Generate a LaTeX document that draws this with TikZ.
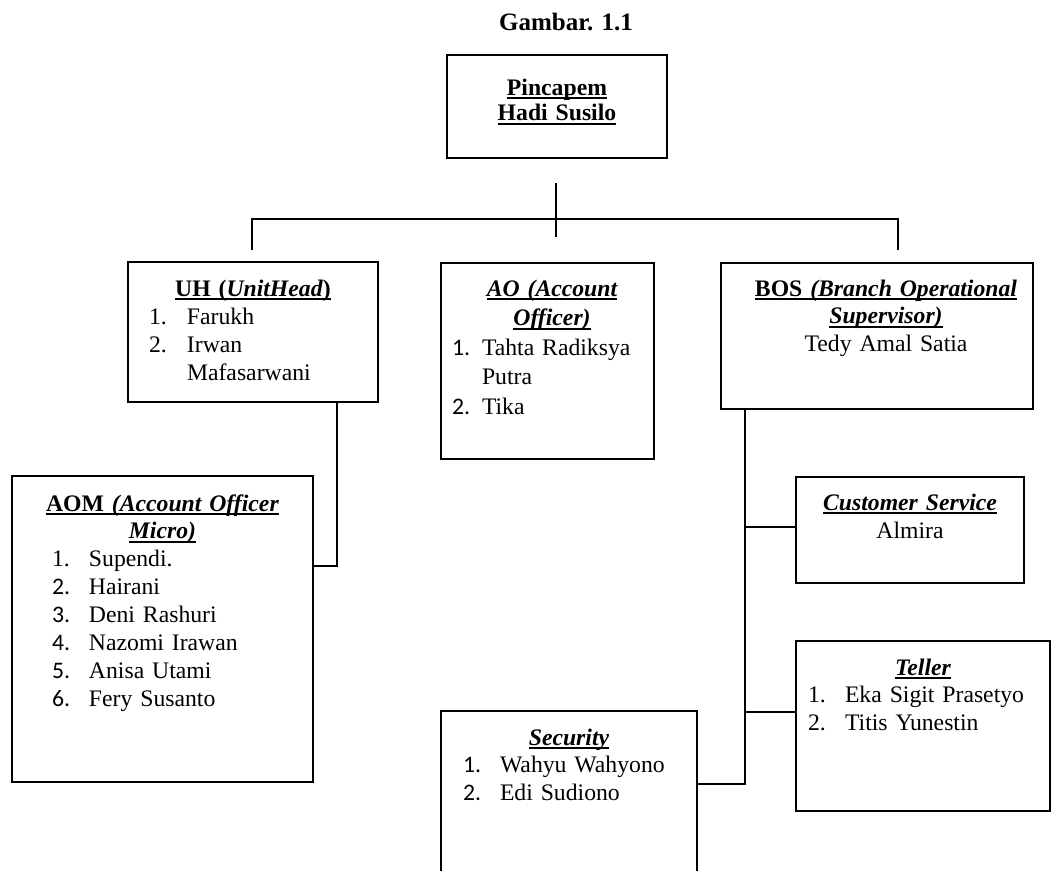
\documentclass[tikz,border=0pt]{standalone}
\usepackage{fontspec}
\setmainfont{Liberation Serif}
\newfontfamily\calib{Carlito}
\usetikzlibrary{calc}
\newsavebox\hulbox
\newcommand\hul[1]{\sbox\hulbox{#1}\leavevmode\rlap{\usebox\hulbox}\rule[-4.4pt]{\wd\hulbox}{2.3pt}}
\begin{document}
\begin{tikzpicture}[x=1pt,y=-1pt,
  box/.style={draw, line width=1.7pt, rectangle, inner sep=0pt, outer sep=0pt, anchor=north west},
  txt/.style={inner sep=0pt, anchor=base},
  con/.style={line width=1.7pt}]
\useasboundingbox (0,0) rectangle (1052,870);
\clip (0,0) rectangle (1052,870);

% boxes
\node[box, minimum width=220pt, minimum height=103pt] (pin) at (447,55) {};
\node[box, minimum width=250pt, minimum height=140pt] (uh)  at (128,262) {};
\node[box, minimum width=213pt, minimum height=196pt] (ao)  at (441,263) {};
\node[box, minimum width=312pt, minimum height=146pt] (bos) at (721,263) {};
\node[box, minimum width=301pt, minimum height=306pt] (aom) at (12,476) {};
\node[box, minimum width=228pt, minimum height=106pt] (cs)  at (796,477) {};
\node[box, minimum width=254pt, minimum height=170pt] (tel) at (796,641) {};
\node[box, minimum width=256pt, minimum height=180pt] (sec) at (441,711) {};

% texts
\node[txt, font=\fontsize{25}{28}\selectfont\bfseries] (title) at (566,30) {Gambar. 1.1};

\node[txt, text width=220pt, font=\fontsize{23.7}{25.5}\selectfont\bfseries] (pint) at (557,95)
  {\centering\hul{Pincapem}\\\hul{Hadi Susilo}\par};

\node[txt, text width=250pt, font=\fontsize{23.7}{28.3}\selectfont] (uht) at (253,296)
  {\raggedright{\centering\bfseries\hul{UH (\textit{UnitHead})}\par}
   \hspace*{21pt}\makebox[38pt][l]{1.}Farukh\par
   \hspace*{21pt}\makebox[38pt][l]{2.}Irwan\par
   \hspace*{59pt}Mafasarwani\par};

\node[txt, text width=213pt, font=\fontsize{23.7}{29.5}\selectfont] (aot) at (552,296)
  {\raggedright{\centering\bfseries\itshape\hul{AO (Account}\\\hul{Officer)}\par}
   \hspace*{6.5pt}\makebox[30pt][l]{\calib 1.}Tahta Radiksya\par
   \hspace*{36.5pt}Putra\par
   \hspace*{6.5pt}\makebox[30pt][l]{\calib 2.}Tika\par};

\node[txt, text width=312pt, font=\fontsize{23.7}{27.5}\selectfont] (bost) at (886,296)
  {\centering{\bfseries\hul{BOS \textit{(Branch Operational}}\\\hul{\textit{Supervisor)}}}\\Tedy Amal Satia\par};

\node[txt, text width=301pt, font=\fontsize{23.7}{27.9}\selectfont] (aomt) at (162.5,511)
  {\raggedright{\centering\bfseries\hul{AOM \textit{(Account Officer}}\\\hul{\textit{Micro)}}\par}
   \hspace*{40pt}\makebox[37pt][l]{1.}Supendi.\par
   \hspace*{40pt}\makebox[37pt][l]{\calib 2.}Hairani\par
   \hspace*{40pt}\makebox[37pt][l]{\calib 3.}Deni Rashuri\par
   \hspace*{40pt}\makebox[37pt][l]{\calib 4.}Nazomi Irawan\par
   \hspace*{40pt}\makebox[37pt][l]{\calib 5.}Anisa Utami\par
   \hspace*{40pt}\makebox[37pt][l]{\calib 6.}Fery Susanto\par};

\node[txt, text width=228pt, font=\fontsize{23.7}{28}\selectfont] (cst) at (910,510)
  {\centering{\bfseries\itshape\hul{Customer Service}}\\Almira\par};

\node[txt, text width=254pt, font=\fontsize{23.7}{27.5}\selectfont] (telt) at (923,675)
  {\raggedright{\centering\bfseries\itshape\hul{Teller}\par}
   \hspace*{12pt}\makebox[37pt][l]{1.}Eka Sigit Prasetyo\par
   \hspace*{12pt}\makebox[37pt][l]{2.}Titis Yunestin\par};

\node[txt, text width=256pt, font=\fontsize{23.7}{27.5}\selectfont] (sect) at (569,745)
  {\raggedright{\centering\bfseries\itshape\hul{Security}\par}
   \hspace*{22pt}\makebox[37pt][l]{\calib 1.}Wahyu Wahyono\par
   \hspace*{22pt}\makebox[37pt][l]{\calib 2.}Edi Sudiono\par};

% connectors
\coordinate (pinA) at (556,183);
\coordinate (pinB) at (556,237);
\coordinate (busL) at (252,219);
\coordinate (busR) at (898,219);
\coordinate (dropL) at (252,250);
\coordinate (dropR) at (898,250);
\draw[con] (pinA) -- (pinB);
\draw[con] (dropL) -- (busL) -- (busR) -- (dropR);

\coordinate (k1) at (337,566);
\draw[con] (uh.south -| k1) -- (k1) -- (aom.east |- k1);

\coordinate (bx) at (745,784);
\coordinate (cy) at (745,527);
\coordinate (ty) at (745,712);
\draw[con] (bos.south -| bx) -- (bx) -- (sec.east |- bx);
\draw[con] (cy) -- (cs.west |- cy);
\draw[con] (ty) -- (tel.west |- ty);
\end{tikzpicture}
\end{document}
